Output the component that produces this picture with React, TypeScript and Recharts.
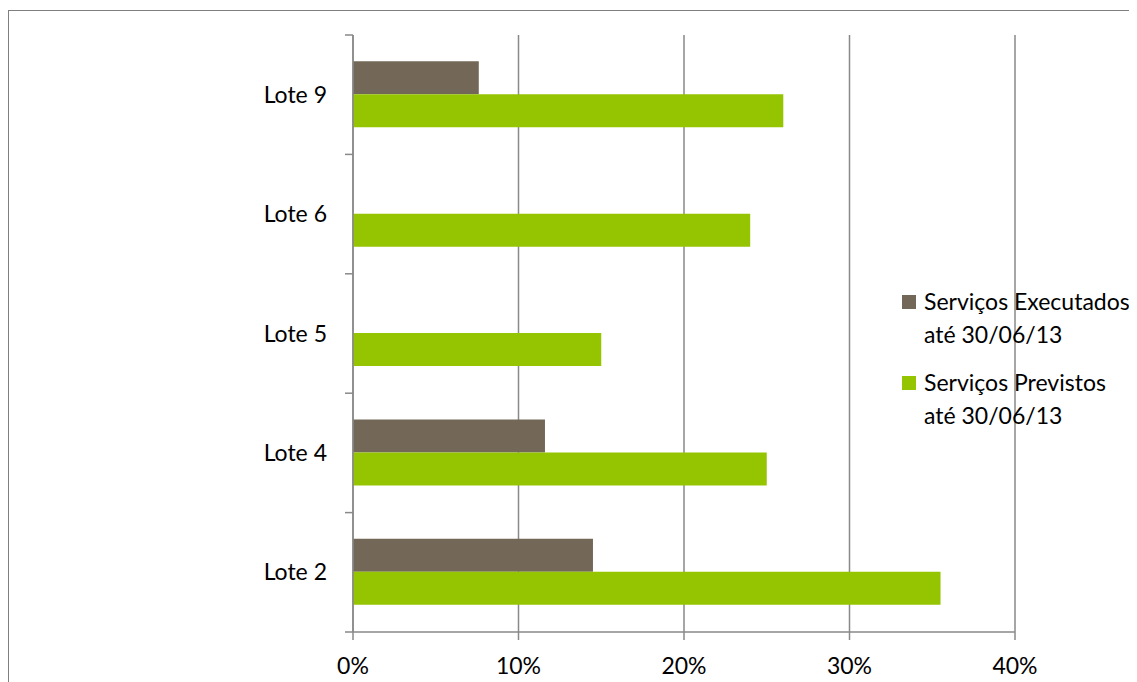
import { BarChart, Bar, XAxis, YAxis, CartesianGrid, Legend } from "recharts"

const lotes = ["Lote 9", "Lote 6", "Lote 5", "Lote 4", "Lote 2"]
const executados = [0.076, 0, 0, 0.116, 0.145]
const previstos = [0.26, 0.24, 0.15, 0.25, 0.355]
const pctTicks = [0, 0.1, 0.2, 0.3, 0.4]

const BROWN = "#736857"
const GREEN = "#95c500"
const AXIS = "#898989"
const FONT = "Lato, 'Open Sans', sans-serif"

const rows = lotes.map((name, i) => ({ name, executados: executados[i], previstos: previstos[i] }))

const W = 1129
const H = 674
const M = { top: 27, right: 122, left: 0, bottom: 0 }
const X_AXIS_H = 50
const BAND = (H - M.top - X_AXIS_H) / lotes.length

function LoteTick(props: any) {
  const { x, y, payload, index } = props
  const axisX = x + 26
  return (
    <g>
      <line x1={axisX - 8} x2={axisX} y1={y - BAND / 2} y2={y - BAND / 2} stroke={AXIS} strokeWidth={1.5} />
      {index === lotes.length - 1 && (
        <line x1={axisX - 8} x2={axisX} y1={y + BAND / 2} y2={y + BAND / 2} stroke={AXIS} strokeWidth={1.5} />
      )}
      <text x={x} y={y} dy="0.35em" textAnchor="end" fill="#000" fontSize={23} fontFamily={FONT}>
        {payload.value}
      </text>
    </g>
  )
}

const legendItems = [
  { color: BROWN, lines: ["Serviços Executados", "até 30/06/13"] },
  { color: GREEN, lines: ["Serviços Previstos", "até 30/06/13"] },
]

function LegendBox() {
  return (
    <div style={{ fontFamily: FONT, fontSize: 23, color: "#000", lineHeight: "33px" }}>
      {legendItems.map((it, i) => (
        <div key={i} style={{ display: "flex", alignItems: "flex-start", marginBottom: 15 }}>
          <span style={{ width: 14, height: 14, background: it.color, marginTop: 10, marginRight: 8, flexShrink: 0 }} />
          <div style={{ whiteSpace: "nowrap" }}>
            {it.lines.map((l, j) => <div key={j}>{l}</div>)}
          </div>
        </div>
      ))}
    </div>
  )
}

export default function App() {
  return (
    <div style={{ position: "relative", width: W, height: H, overflow: "hidden" }}>
      <div style={{ position: "absolute", left: 0, top: 2, right: -10, bottom: -10, borderTop: "1.5px solid #7f7f7f", borderLeft: "1.5px solid #7f7f7f" }} />
      <BarChart
        width={W}
        height={H}
        data={rows}
        layout="vertical"
        margin={M}
        barCategoryGap="22%"
        barGap={0}
      >
        <CartesianGrid horizontal={false} stroke={AXIS} strokeWidth={1.5} />
        <XAxis
          type="number"
          domain={[0, 0.4]}
          ticks={pctTicks}
          height={X_AXIS_H}
          tickSize={8}
          tickMargin={18}
          tickFormatter={(v: number) => `${Math.round(v * 100)}%`}
          axisLine={{ stroke: AXIS, strokeWidth: 1.5 }}
          tickLine={{ stroke: AXIS, strokeWidth: 1.5 }}
          tick={{ fill: "#000", fontSize: 23, fontFamily: FONT }}
        />
        <YAxis
          type="category"
          dataKey="name"
          width={345}
          tickLine={false}
          tickSize={0}
          tickMargin={26}
          axisLine={{ stroke: AXIS, strokeWidth: 1.5 }}
          tick={<LoteTick />}
        />
        <Legend
          layout="horizontal"
          verticalAlign="middle"
          align="center"
          content={<LegendBox />}
          wrapperStyle={{ left: 894, top: 277, width: 260 }}
        />
        <Bar dataKey="executados" name="Serviços Executados até 30/06/13" fill={BROWN} isAnimationActive={false} />
        <Bar dataKey="previstos" name="Serviços Previstos até 30/06/13" fill={GREEN} isAnimationActive={false} />
      </BarChart>
    </div>
  )
}
